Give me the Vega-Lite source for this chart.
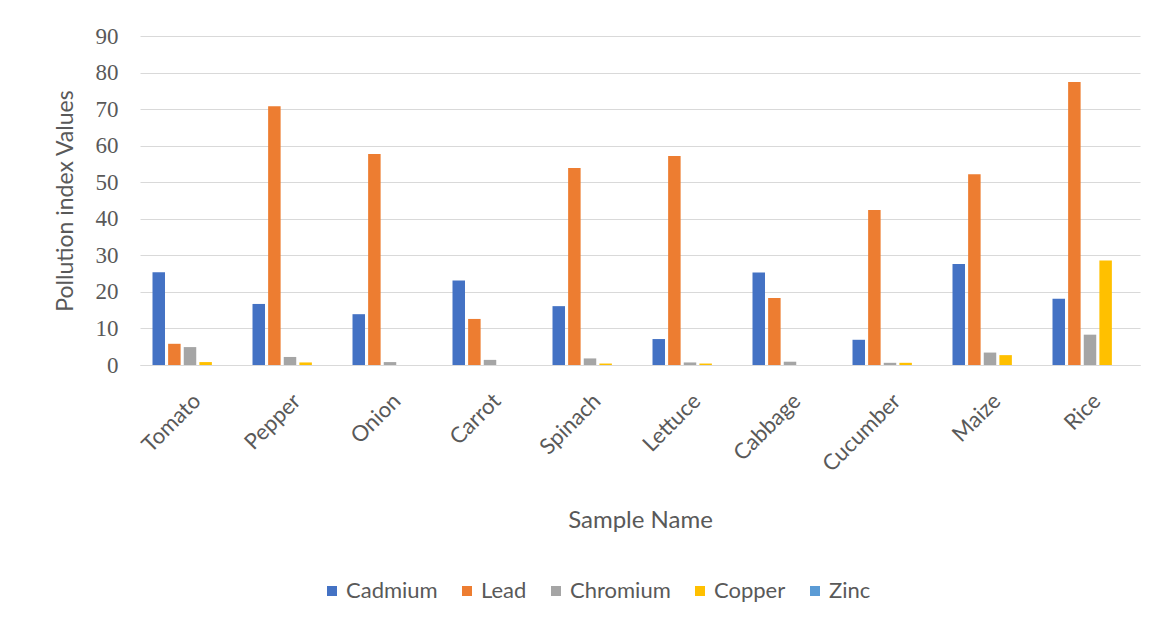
{
  "$schema": "https://vega.github.io/schema/vega-lite/v6.json",
  "autosize": {"type": "none"},
  "width": 1000,
  "height": 329,
  "padding": {"left": 140, "top": 36, "right": 28, "bottom": 258},
  "background": "white",
  "data": {"values": [
    {"sample": "Tomato", "metal": "Cadmium", "value": 25.4},
    {"sample": "Tomato", "metal": "Lead", "value": 5.8},
    {"sample": "Tomato", "metal": "Chromium", "value": 4.9},
    {"sample": "Tomato", "metal": "Copper", "value": 0.8},
    {"sample": "Tomato", "metal": "Zinc", "value": 0},
    {"sample": "Pepper", "metal": "Cadmium", "value": 16.7},
    {"sample": "Pepper", "metal": "Lead", "value": 70.8},
    {"sample": "Pepper", "metal": "Chromium", "value": 2.2},
    {"sample": "Pepper", "metal": "Copper", "value": 0.7},
    {"sample": "Pepper", "metal": "Zinc", "value": 0},
    {"sample": "Onion", "metal": "Cadmium", "value": 13.9},
    {"sample": "Onion", "metal": "Lead", "value": 57.7},
    {"sample": "Onion", "metal": "Chromium", "value": 0.8},
    {"sample": "Onion", "metal": "Copper", "value": 0},
    {"sample": "Onion", "metal": "Zinc", "value": 0},
    {"sample": "Carrot", "metal": "Cadmium", "value": 23.1},
    {"sample": "Carrot", "metal": "Lead", "value": 12.6},
    {"sample": "Carrot", "metal": "Chromium", "value": 1.4},
    {"sample": "Carrot", "metal": "Copper", "value": 0},
    {"sample": "Carrot", "metal": "Zinc", "value": 0},
    {"sample": "Spinach", "metal": "Cadmium", "value": 16.1},
    {"sample": "Spinach", "metal": "Lead", "value": 53.9},
    {"sample": "Spinach", "metal": "Chromium", "value": 1.8},
    {"sample": "Spinach", "metal": "Copper", "value": 0.4},
    {"sample": "Spinach", "metal": "Zinc", "value": 0},
    {"sample": "Lettuce", "metal": "Cadmium", "value": 7.1},
    {"sample": "Lettuce", "metal": "Lead", "value": 57.2},
    {"sample": "Lettuce", "metal": "Chromium", "value": 0.7},
    {"sample": "Lettuce", "metal": "Copper", "value": 0.4},
    {"sample": "Lettuce", "metal": "Zinc", "value": 0},
    {"sample": "Cabbage", "metal": "Cadmium", "value": 25.3},
    {"sample": "Cabbage", "metal": "Lead", "value": 18.3},
    {"sample": "Cabbage", "metal": "Chromium", "value": 0.9},
    {"sample": "Cabbage", "metal": "Copper", "value": 0},
    {"sample": "Cabbage", "metal": "Zinc", "value": 0},
    {"sample": "Cucumber", "metal": "Cadmium", "value": 6.9},
    {"sample": "Cucumber", "metal": "Lead", "value": 42.4},
    {"sample": "Cucumber", "metal": "Chromium", "value": 0.6},
    {"sample": "Cucumber", "metal": "Copper", "value": 0.6},
    {"sample": "Cucumber", "metal": "Zinc", "value": 0},
    {"sample": "Maize", "metal": "Cadmium", "value": 27.6},
    {"sample": "Maize", "metal": "Lead", "value": 52.2},
    {"sample": "Maize", "metal": "Chromium", "value": 3.4},
    {"sample": "Maize", "metal": "Copper", "value": 2.7},
    {"sample": "Maize", "metal": "Zinc", "value": 0},
    {"sample": "Rice", "metal": "Cadmium", "value": 18.1},
    {"sample": "Rice", "metal": "Lead", "value": 77.4},
    {"sample": "Rice", "metal": "Chromium", "value": 8.3},
    {"sample": "Rice", "metal": "Copper", "value": 28.6},
    {"sample": "Rice", "metal": "Zinc", "value": 0}
  ]},
  "mark": {"type": "bar"},
  "encoding": {
    "x": {
      "field": "sample", "type": "nominal",
      "sort": ["Tomato", "Pepper", "Onion", "Carrot", "Spinach", "Lettuce", "Cabbage", "Cucumber", "Maize", "Rice"],
      "scale": {"paddingInner": 0.25, "paddingOuter": 0.125},
      "axis": {
        "title": "Sample Name",
        "titleFont": "Lato", "titleFontSize": 24, "titleFontWeight": "normal", "titleColor": "#595959",
        "titleY": 155, "titleBaseline": "middle",
        "labelAngle": -45, "labelFont": "Lato", "labelFontSize": 22, "labelColor": "#595959",
        "labelPadding": 25,
        "ticks": false, "domainColor": "#D9D9D9", "domainWidth": 1
      }
    },
    "xOffset": {
      "field": "metal", "type": "nominal",
      "sort": ["Cadmium", "Lead", "Chromium", "Copper", "Zinc"],
      "scale": {"paddingInner": 0.2}
    },
    "y": {
      "field": "value", "type": "quantitative",
      "scale": {"domain": [0, 90], "nice": false},
      "axis": {
        "title": "Pollution index Values",
        "titleFont": "Lato", "titleFontSize": 23, "titleFontWeight": "normal", "titleColor": "#595959",
        "titlePadding": 18,
        "values": [0, 10, 20, 30, 40, 50, 60, 70, 80, 90],
        "labelFont": "Liberation Serif", "labelFontSize": 23, "labelColor": "#595959",
        "labelPadding": 22,
        "ticks": false, "domain": false,
        "gridColor": "#D9D9D9", "gridWidth": 1
      }
    },
    "color": {
      "field": "metal", "type": "nominal",
      "scale": {
        "domain": ["Cadmium", "Lead", "Chromium", "Copper", "Zinc"],
        "range": ["#4472C4", "#ED7D31", "#A5A5A5", "#FFC000", "#5B9BD5"]
      },
      "legend": {
        "title": null,
        "orient": "none",
        "direction": "horizontal",
        "legendX": 181,
        "legendY": 544,
        "symbolType": "square",
        "symbolSize": 100,
        "symbolStrokeWidth": 0,
        "labelFont": "Lato", "labelFontSize": 22, "labelColor": "#595959",
        "labelOffset": 3,
        "columnPadding": 18
      }
    }
  },
  "config": {"view": {"stroke": null}}
}
